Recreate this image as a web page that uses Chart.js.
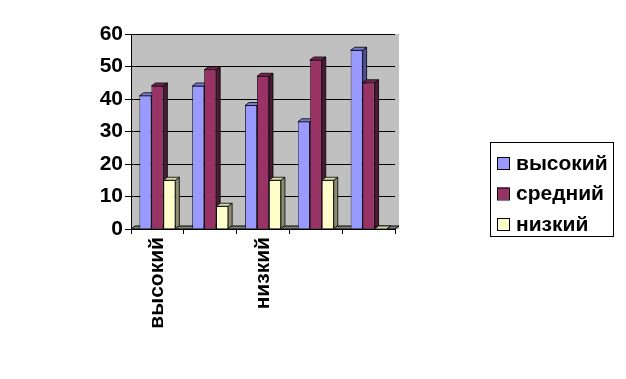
<!DOCTYPE html>
<html>
<head>
<meta charset="utf-8">
<script src="https://cdn.jsdelivr.net/npm/chart.js@4/dist/chart.umd.min.js"></script>
<style>
  html, body { margin: 0; padding: 0; background: #fff; }
  #wrap { width: 626px; height: 379px; }
</style>
</head>
<body>
<div id="wrap"><canvas id="chart" width="626" height="379"></canvas></div>
<script>
// data
const categories = ['высокий', '', 'низкий', '', ''];
const seriesNames = ['высокий', 'средний', 'низкий'];
const vysokiy = [41, 44, 38, 33, 55];
const sredniy = [44, 49, 47, 52, 45];
const nizkiy = [15, 7, 15, 15, 0];
const yTicks = [0, 10, 20, 30, 40, 50, 60];

const FONT = 'Arial, "Liberation Sans", sans-serif';
const DX = 4, DY = 3;

const palette = [
  { front: '#9999FF', top: '#7A7AD9', side: '#4D4D99' },
  { front: '#993366', top: '#7A2952', side: '#4D1A33' },
  { front: '#FFFFCC', top: '#D6D6A8', side: '#8C8C70' }
];

// back wall, floor and the 3d top/side faces of the bars
const depthPlugin = {
  id: 'depth',
  beforeDatasetsDraw(chart) {
    const ctx = chart.ctx;
    const a = chart.chartArea;
    ctx.save();
    // floor
    ctx.beginPath();
    ctx.moveTo(a.left, a.bottom);
    ctx.lineTo(a.right, a.bottom);
    ctx.lineTo(a.right + DX, a.bottom - DY);
    ctx.lineTo(a.left + DX, a.bottom - DY);
    ctx.closePath();
    ctx.fillStyle = '#808080';
    ctx.fill();
    ctx.strokeStyle = '#000';
    ctx.lineWidth = 1;
    ctx.stroke();

    chart.data.datasets.forEach((ds, di) => {
      const meta = chart.getDatasetMeta(di);
      const c = palette[di];
      meta.data.forEach(bar => {
        const p = bar.getProps(['x', 'y', 'base', 'width'], true);
        const l = p.x - p.width / 2, r = p.x + p.width / 2;
        const t = p.y, b = p.base;
        ctx.strokeStyle = '#000';
        ctx.lineWidth = 0.8;
        // side
        ctx.beginPath();
        ctx.moveTo(r, t);
        ctx.lineTo(r + DX, t - DY);
        ctx.lineTo(r + DX, b - DY);
        ctx.lineTo(r, b);
        ctx.closePath();
        ctx.fillStyle = c.side;
        ctx.fill();
        ctx.stroke();
        // top
        ctx.beginPath();
        ctx.moveTo(l, t);
        ctx.lineTo(l + DX, t - DY);
        ctx.lineTo(r + DX, t - DY);
        ctx.lineTo(r, t);
        ctx.closePath();
        ctx.fillStyle = c.top;
        ctx.fill();
        ctx.stroke();
      });
    });
    ctx.restore();
  }
};

const wallPlugin = {
  id: 'wall',
  beforeDraw(chart) {
    const ctx = chart.ctx;
    const a = chart.chartArea;
    ctx.save();
    ctx.fillStyle = '#C0C0C0';
    ctx.fillRect(a.left, a.top, a.right - a.left + DX, a.bottom - a.top);
    ctx.restore();
  }
};

// boxed legend on the right
const boxLegend = {
  id: 'boxLegend',
  afterDraw(chart) {
    const ctx = chart.ctx;
    const x = 490, y = 142, w = 123, h = 94;
    ctx.save();
    ctx.strokeStyle = '#000';
    ctx.lineWidth = 1;
    ctx.strokeRect(x + 0.5, y + 0.5, w, h);
    ctx.font = 'bold 21px ' + FONT;
    ctx.textBaseline = 'middle';
    chart.data.datasets.forEach((ds, i) => {
      const cy = 163 + i * 30.5;
      ctx.fillStyle = ds.backgroundColor;
      ctx.fillRect(497, cy - 6, 12, 12);
      ctx.strokeRect(497.5, cy - 5.5, 12, 12);
      ctx.fillStyle = '#000';
      ctx.fillText(ds.label, 516, cy + 1);
    });
    ctx.restore();
  }
};

const makeSet = (i, data) => ({
  label: seriesNames[i],
  data: data,
  backgroundColor: palette[i].front,
  borderColor: '#000',
  borderWidth: 0.8,
  categoryPercentage: 0.68,
  barPercentage: 1
});

new Chart(document.getElementById('chart'), {
  type: 'bar',
  data: {
    labels: categories,
    datasets: [makeSet(0, vysokiy), makeSet(1, sredniy), makeSet(2, nizkiy)]
  },
  options: {
    responsive: false,
    animation: false,
    events: [],
    layout: { padding: { top: 34, right: 231, bottom: 0, left: 0 } },
    plugins: { legend: { display: false }, tooltip: { enabled: false } },
    scales: {
      x: {
        grid: { display: true, drawOnChartArea: false, offset: true, color: '#000', tickLength: 5 },
        border: { display: false },
        ticks: {
          color: '#000',
          font: { family: FONT, size: 21, weight: 'bold' },
          minRotation: 90,
          maxRotation: 90,
          autoSkip: false,
          padding: 3
        },
        afterFit(scale) { scale.height = 150; }
      },
      y: {
        min: 0,
        max: 60,
        afterBuildTicks(scale) { scale.ticks = yTicks.map(v => ({ value: v })); },
        grid: { color: '#000', lineWidth: 1, tickLength: 6 },
        border: { display: true, color: '#000' },
        ticks: {
          color: '#000',
          font: { family: FONT, size: 21, weight: 'bold' },
          padding: 2
        },
        afterFit(scale) { scale.width = 131; }
      }
    }
  },
  plugins: [wallPlugin, depthPlugin, boxLegend]
});
</script>
</body>
</html>
